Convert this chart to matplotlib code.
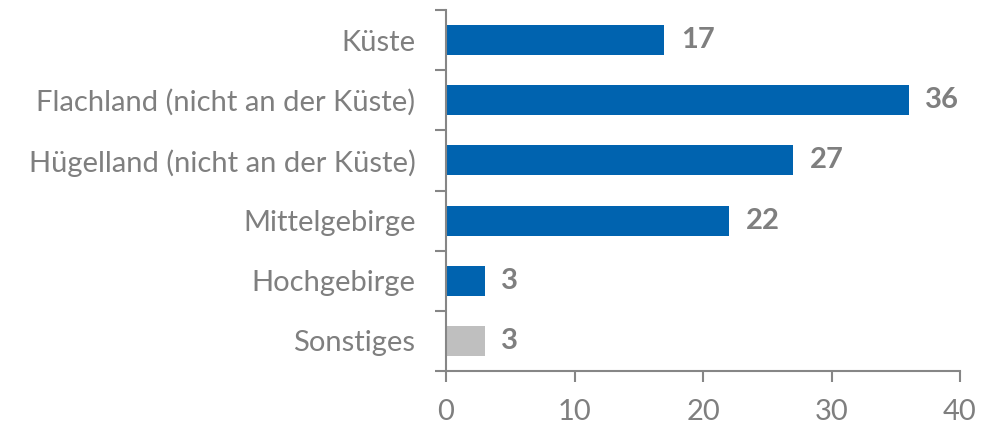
import matplotlib.pyplot as plt
from matplotlib.ticker import FixedLocator

plt.rcParams['font.family'] = ['Lato', 'DejaVu Sans']

# Daten
kategorien = ['Küste', 'Flachland (nicht an der Küste)', 'Hügelland (nicht an der Küste)',
              'Mittelgebirge', 'Hochgebirge', 'Sonstiges']
werte = [17, 36, 27, 22, 3, 3]
farben = ['#0063AF', '#0063AF', '#0063AF', '#0063AF', '#0063AF', '#BFBFBF']

grau = '#7F7F7F'
achse = '#868686'

fig = plt.figure(figsize=(10, 4.26), dpi=100)
ax = fig.add_axes([0.446, 0.129, 0.514, 0.8475])

pos = list(range(len(kategorien)))[::-1]
ax.barh(pos, werte, height=0.5, color=farben)

for p, w in zip(pos, werte):
    ax.text(w + 1.3, p, str(w), va='center', ha='left', fontsize=21,
            fontweight='bold', color=grau)

ax.set_xlim(0, 40)
ax.set_ylim(-0.5, len(kategorien) - 0.5)
ax.set_xticks([0, 10, 20, 30, 40])
ax.set_yticks(pos)
ax.set_yticklabels(kategorien)

# Striche zwischen den Kategorien
ax.yaxis.set_minor_locator(FixedLocator([i - 0.5 for i in range(len(kategorien) + 1)]))
ax.tick_params(axis='y', which='major', length=0, pad=22, labelsize=21, labelcolor=grau)
ax.tick_params(axis='y', which='minor', length=8, width=1.5, color=achse, direction='out')
ax.tick_params(axis='x', which='major', length=8, width=1.5, color=achse, pad=12,
               labelsize=21, labelcolor=grau)

for s in ['top', 'right']:
    ax.spines[s].set_visible(False)
for s in ['left', 'bottom']:
    ax.spines[s].set_color(achse)
    ax.spines[s].set_linewidth(1.5)

fig.savefig('out.png', dpi=100)
